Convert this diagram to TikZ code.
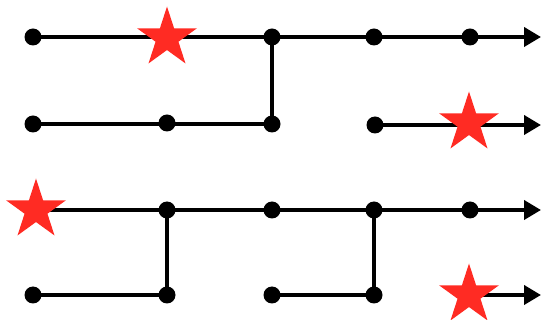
\documentclass[tikz,border=0pt]{standalone}
\usepackage{tikz}
\usepackage{xcolor}
\usetikzlibrary{arrows.meta,shapes.geometric,backgrounds}
\definecolor{Ink}{HTML}{000000}
\definecolor{Red}{HTML}{FF2B23}

\begin{document}
\begin{tikzpicture}[x=1pt, y=-1pt,
    dot/.style={circle, fill=Ink, inner sep=0pt, minimum size=17pt},
    goal/.style={star, star points=5, star point ratio=2.618, fill=Red, inner sep=0pt, minimum size=63pt},
    seg/.style={line width=4pt, draw=Ink},
    arr/.style={seg, -{Triangle[length=17pt, width=19pt]}}
  ]
    \useasboundingbox (0,0) rectangle (541,320);
    % row 1
    \node[dot] (d11) at (33,37) {};
    \node[goal] (s1) at (167,38) {};
    \node[dot] (d12) at (272,37) {};
    \node[dot] (d13) at (374,37) {};
    \node[dot] (d14) at (470,37) {};
    \coordinate (e1) at (541,37);
    % row 2
    \node[dot] (d21) at (33,124) {};
    \node[dot] (d22) at (167,123) {};
    \node[dot] (d23) at (272,124) {};
    \node[dot] (d24) at (375,125) {};
    \node[goal] (s2) at (469,123) {};
    \coordinate (e2) at (541,125);
    % row 3
    \node[goal] (s3) at (36,210) {};
    \node[dot] (d31) at (167,210) {};
    \node[dot] (d32) at (272,210) {};
    \node[dot] (d33) at (374,210) {};
    \node[dot] (d34) at (470,210) {};
    \coordinate (e3) at (541,210);
    % row 4
    \node[dot] (d41) at (33,295) {};
    \node[dot] (d42) at (167,295) {};
    \node[dot] (d43) at (272,295) {};
    \node[dot] (d44) at (374,295) {};
    \node[goal] (s4) at (469,295) {};
    \coordinate (e4) at (541,295);
    \begin{scope}[on background layer]
      \draw[arr] (d11.center) -- (e1);
      \draw[seg] (d21.center) -- (d23.center);
      \draw[seg] (d23.center) -- (d12.center);
      \draw[arr] (d24.center) -- (e2);
      \draw[arr] (s3.center) -- (e3);
      \draw[seg] (d41.center) -- (d42.center);
      \draw[seg] (d42.center) -- (d31.center);
      \draw[seg] (d43.center) -- (d44.center);
      \draw[seg] (d44.center) -- (d33.center);
      \draw[arr] (s4.center) -- (e4);
    \end{scope}
  \end{tikzpicture}
\end{document}
